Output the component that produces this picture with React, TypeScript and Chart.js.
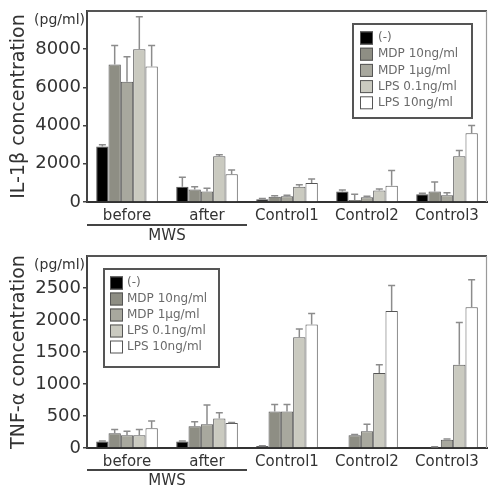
import React, { useEffect, useRef } from 'react';
import { Chart, registerables } from 'chart.js';

Chart.register(...registerables);

const FONT = 'DejaVu Sans';

const categories = ['before', 'after', 'Control1', 'Control2', 'Control3'];
const seriesLabels = ['(-)', 'MDP 10ng/ml', 'MDP 1μg/ml', 'LPS 0.1ng/ml', 'LPS 10ng/ml'];
const seriesColors = ['#000000', '#8e8e84', '#a8a89e', '#cacac0', '#ffffff'];

// IL-1β (pg/ml)
const il1Neg = [2900, 800, 150, 550, 400];
const il1Mdp10 = [7200, 650, 280, 100, 550];
const il1Mdp1 = [6300, 550, 300, 250, 350];
const il1Lps01 = [8000, 2400, 800, 600, 2400];
const il1Lps10 = [7100, 1450, 1000, 850, 3600];
const il1NegErr = [100, 500, 30, 80, 60];
const il1Mdp10Err = [1000, 150, 50, 300, 500];
const il1Mdp1Err = [1300, 170, 50, 50, 140];
const il1Lps01Err = [1700, 80, 100, 80, 300];
const il1Lps10Err = [1100, 230, 200, 800, 400];

// TNF-α (pg/ml)
const tnfNeg = [100, 100, 30, 5, 10];
const tnfMdp10 = [230, 340, 570, 200, 15];
const tnfMdp1 = [200, 370, 570, 260, 130];
const tnfLps01 = [200, 460, 1730, 1170, 1300];
const tnfLps10 = [310, 390, 1930, 2140, 2200];
const tnfNegErr = [10, 10, 5, 0, 0];
const tnfMdp10Err = [60, 70, 110, 10, 5];
const tnfMdp1Err = [60, 300, 110, 110, 10];
const tnfLps01Err = [90, 90, 130, 130, 660];
const tnfLps10Err = [110, 10, 170, 400, 430];

const il1TickMax = 10000;
const il1TickStep = 2000;
const tnfTickMax = 3000;
const tnfTickStep = 500;

const extrasPlugin = {
  id: 'extras',
  afterDatasetsDraw(chart: any) {
    const ctx = chart.ctx;
    const ys = chart.scales.y;
    chart.data.datasets.forEach((ds: any, di: number) => {
      const meta = chart.getDatasetMeta(di);
      meta.data.forEach((el: any, i: number) => {
        const e = ds.errors[i];
        if (!e) return;
        const yt = ys.getPixelForValue(ds.data[i] + e);
        ctx.save();
        ctx.strokeStyle = '#8c8c8c';
        ctx.lineWidth = 1.5;
        ctx.beginPath();
        ctx.moveTo(el.x, el.y);
        ctx.lineTo(el.x, yt);
        ctx.moveTo(el.x - 3.5, yt);
        ctx.lineTo(el.x + 3.5, yt);
        ctx.stroke();
        ctx.restore();
      });
    });
  },
  afterDraw(chart: any, _args: any, opts: any) {
    const ctx = chart.ctx;
    const { left, right, top } = chart.chartArea;
    ctx.save();
    // frame: top and right
    ctx.strokeStyle = '#555';
    ctx.lineWidth = 2;
    ctx.beginPath();
    ctx.moveTo(left, top);
    ctx.lineTo(right, top);
    ctx.stroke();
    ctx.strokeStyle = '#9a9a9a';
    ctx.lineWidth = 1.2;
    ctx.beginPath();
    ctx.moveTo(right - 0.5, top);
    ctx.lineTo(right - 0.5, chart.chartArea.bottom);
    ctx.stroke();

    // unit label
    ctx.fillStyle = '#333';
    ctx.font = `14px "${FONT}"`;
    ctx.textAlign = 'right';
    ctx.textBaseline = 'middle';
    ctx.fillText('(pg/ml)', left - 2, top + 9);

    // MWS bracket
    const xs = chart.scales.x;
    const half = (xs.getPixelForValue(1) - xs.getPixelForValue(0)) / 2;
    const x0 = xs.getPixelForValue(0) - half;
    const x1 = xs.getPixelForValue(1) + half;
    ctx.strokeStyle = '#444';
    ctx.lineWidth = 2;
    ctx.beginPath();
    ctx.moveTo(x0, opts.mwsLineY);
    ctx.lineTo(x1, opts.mwsLineY);
    ctx.stroke();
    ctx.font = `15px "${FONT}"`;
    ctx.textAlign = 'center';
    ctx.fillText('MWS', (x0 + x1) / 2, opts.mwsTextY);

    // legend
    const lg = opts.legend;
    ctx.strokeStyle = '#555';
    ctx.lineWidth = 2;
    ctx.fillStyle = '#fff';
    ctx.fillRect(lg.x, lg.y, lg.w, lg.h);
    ctx.strokeRect(lg.x, lg.y, lg.w, lg.h);
    ctx.font = `12px "${FONT}"`;
    ctx.textAlign = 'left';
    chart.data.datasets.forEach((ds: any, i: number) => {
      const cy = lg.rowStart + i * lg.rowGap;
      ctx.fillStyle = ds.backgroundColor;
      ctx.fillRect(lg.swatchX, cy - 6.5, 13, 13);
      ctx.strokeStyle = '#555';
      ctx.lineWidth = 1;
      ctx.strokeRect(lg.swatchX + 0.5, cy - 6, 12, 12);
      ctx.fillStyle = '#6a6a6a';
      ctx.fillText(ds.label, lg.textX, cy);
    });
    ctx.restore();
  },
};

function makeConfig(
  values: number[][],
  errors: number[][],
  yMax: number,
  step: number,
  title: string,
  padTop: number,
  xHeight: number,
  legend: any,
) {
  return {
    type: 'bar',
    data: {
      labels: categories,
      datasets: values.map((v, i) => ({
        label: seriesLabels[i],
        data: v,
        errors: errors[i],
        backgroundColor: seriesColors[i],
        borderColor: '#555',
        borderWidth: 1,
        barPercentage: 1,
        categoryPercentage: 0.77,
      })),
    },
    options: {
      responsive: false,
      animation: false,
      layout: { padding: { top: padTop, right: 2, left: 0, bottom: 0 } },
      plugins: {
        legend: { display: false },
        tooltip: { enabled: false },
        extras: { legend, mwsLineY: 225, mwsTextY: 236 },
      },
      scales: {
        x: {
          ticks: { color: '#333', font: { family: FONT, size: 15 }, padding: 5, maxRotation: 0, autoSkip: false },
          grid: { display: false, drawTicks: false },
          border: { color: '#333', width: 2 },
          afterFit: (s: any) => {
            s.height = xHeight;
          },
        },
        y: {
          min: 0,
          max: yMax,
          ticks: {
            stepSize: step,
            color: '#333',
            font: { family: FONT, size: 18, lineHeight: 1 },
            padding: 2,
            callback: (v: any) => (v >= yMax ? '' : String(v)),
          },
          grid: {
            drawOnChartArea: false,
            drawTicks: true,
            tickLength: 4,
            lineWidth: 1.5,
            color: (c: any) => (c.tick && c.tick.value >= yMax ? 'rgba(0,0,0,0)' : '#444'),
          },
          border: { color: '#444', width: 2 },
          title: {
            display: true,
            text: title,
            color: '#333',
            font: { family: FONT, size: 19 },
            padding: { top: 8, bottom: 0 },
          },
          afterFit: (s: any) => {
            s.width = 87;
          },
        },
      },
    },
    plugins: [extrasPlugin],
  };
}

export default function App() {
  const topRef = useRef<HTMLCanvasElement>(null);
  const botRef = useRef<HTMLCanvasElement>(null);

  useEffect(() => {
    const c1 = new Chart(
      topRef.current as HTMLCanvasElement,
      makeConfig(
        [il1Neg, il1Mdp10, il1Mdp1, il1Lps01, il1Lps10],
        [il1NegErr, il1Mdp10Err, il1Mdp1Err, il1Lps01Err, il1Lps10Err],
        il1TickMax,
        il1TickStep,
        'IL-1β concentration',
        11,
        43,
        { x: 353, y: 24, w: 119, h: 94, swatchX: 360, textX: 378, rowStart: 38, rowGap: 16.2 },
      ) as any,
    );
    const c2 = new Chart(
      botRef.current as HTMLCanvasElement,
      makeConfig(
        [tnfNeg, tnfMdp10, tnfMdp1, tnfLps01, tnfLps10],
        [tnfNegErr, tnfMdp10Err, tnfMdp1Err, tnfLps01Err, tnfLps10Err],
        tnfTickMax,
        tnfTickStep,
        'TNF-α concentration',
        10,
        41,
        { x: 104, y: 24, w: 115, h: 98, swatchX: 110, textX: 127, rowStart: 38, rowGap: 16 },
      ) as any,
    );
    return () => {
      c1.destroy();
      c2.destroy();
    };
  }, []);

  return (
    <div style={{ position: 'absolute', left: 0, top: 0, width: 489, height: 489, background: '#fff' }}>
      <canvas ref={topRef} width={489} height={245} style={{ position: 'absolute', left: 0, top: 0 }} />
      <canvas ref={botRef} width={489} height={244} style={{ position: 'absolute', left: 0, top: 245 }} />
    </div>
  );
}
